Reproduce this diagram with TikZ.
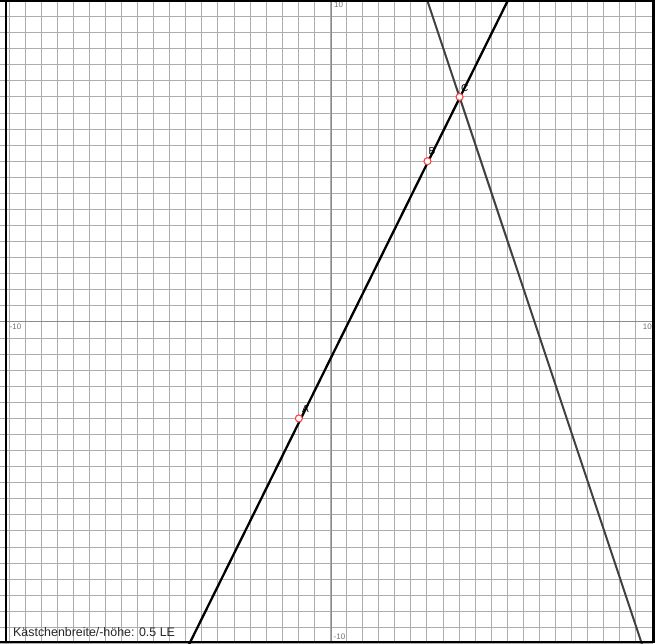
\documentclass[tikz,border=0pt]{standalone}
\usepackage{fontspec}
\setmainfont{Liberation Sans}
\tikzset{
  gridline/.style={draw=black!32, line width=1pt},
  axisline/.style={draw=black!45, line width=1pt},
  frameline/.style={draw=black, line width=2.5pt},
  axlabel/.style={font=\fontsize{8}{9}\selectfont, text=black!55, inner sep=0pt},
  ptlabel/.style={font=\fontsize{10}{11}\selectfont, text=black, inner sep=0pt, anchor=south west},
  ptmark/.style={circle, draw=red!75, fill=white, line width=1.1pt, inner sep=0pt, minimum size=7pt},
}
\begin{document}
\begin{tikzpicture}[x=1pt,y=1pt]
\useasboundingbox (0,0) rectangle (659,643);
\fill[white] (0,0) rectangle (659,643);
\begin{scope}
\clip (0,0) rectangle (653,643);
\foreach \k in {0,...,40} \draw[gridline] ({9+16.075*\k},0) -- ({9+16.075*\k},643);
\foreach \j in {-20,...,20} \draw[gridline] (0,{321+16.075*\j}) -- (653,{321+16.075*\j});
\draw[axisline] (331,0) -- (331,643);
\draw[axisline] (0,321) -- (653,321);
\begin{scope}[shift={(331,321)}, x=32.15pt, y=32.15pt]
  \coordinate (L1s) at (-4.5,-10.2);
  \coordinate (L1e) at (5.6,10.2);
  \coordinate (L2s) at (2.93,10.2);
  \coordinate (L2e) at (9.733,-10.2);
  \draw[black!75, line width=2pt] (L2s) -- (L2e);
  \draw[black, line width=2.3pt] (L1s) -- (L1e);
  \node[ptmark] (A) at (-1,-3) {};
  \node[ptmark] (B) at (3,5) {};
  \node[ptmark] (C) at (4,7) {};
\end{scope}
\end{scope}
\node[ptlabel] (lA) at (302,230) {A};
\node[ptlabel] (lB) at (428.5,488.5) {B};
\node[ptlabel] (lC) at (461,551) {C};
\node[axlabel, anchor=north west] (ytop) at (334,641.5) {10};
\node[axlabel, anchor=north west] (xleft) at (9.5,319.5) {-10};
\node[axlabel, anchor=north east] (xright) at (652,319.5) {10};
\node[axlabel, anchor=south west] (ybot) at (333.5,3.5) {-10};
\node[font=\fontsize{12.4}{14}\selectfont, text=black!85, inner sep=0pt, anchor=base west] (note) at (13,7) {Kästchenbreite/-höhe: 0.5 LE};
\draw[frameline] (6,0) -- (6,643);
\draw[draw=black, line width=3pt] (653.5,0) -- (653.5,643);
\draw[draw=black, line width=1.8pt] (0,642.1) -- (655,642.1);
\draw[draw=black, line width=2pt] (0,1) -- (655,1);
\end{tikzpicture}
\end{document}
